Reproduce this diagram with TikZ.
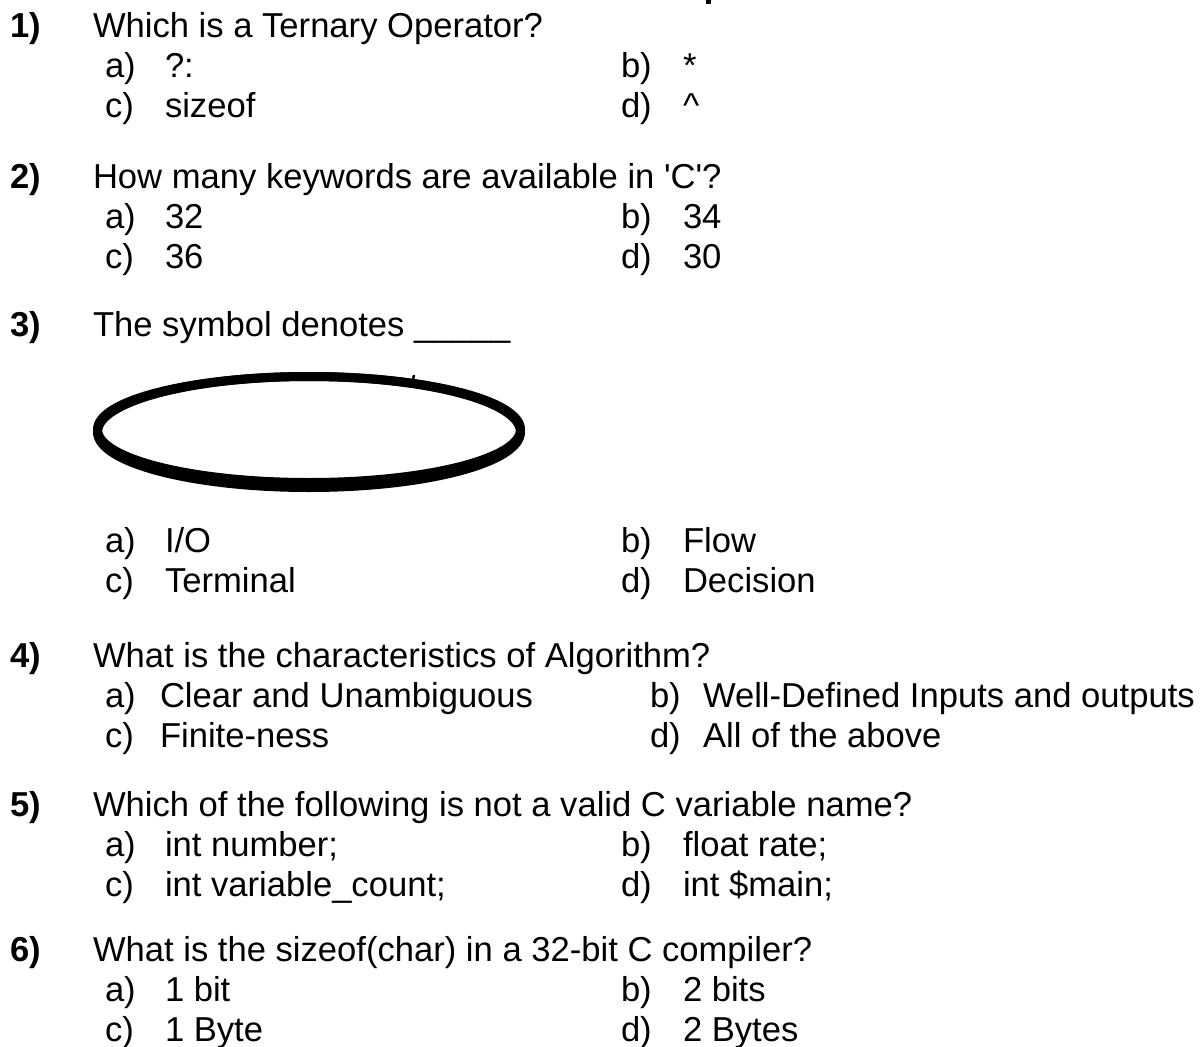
\documentclass[tikz,border=0pt]{standalone}
\usepackage{fontspec}
\setmainfont{Liberation Sans}
\begin{document}
\begin{tikzpicture}[x=1pt,y=-1pt,
  every node/.style={inner sep=0pt, outer sep=0pt, anchor=base west,
    font=\fontsize{34.6}{40}\selectfont},
  qnum/.style={font=\fontsize{34.6}{40}\selectfont\bfseries},
  symb/.style={line width=9pt}]
\useasboundingbox (0,0) rectangle (1200,1047);
% fragment of a cut-off heading
\fill (706,0) rectangle (711,4);
% Q1
\node[qnum] (q1n) at (10,37) {1)};
\node (q1t) at (93,37) {Which is a Ternary Operator?};
\node (q1a) at (105,77) {a)}; \node (q1at) at (165,77) {?:};
\node (q1b) at (621,77) {b)}; \node (q1bt) at (683,77) {*};
\node (q1c) at (105,117) {c)}; \node (q1ct) at (165,117) {sizeof};
\node (q1d) at (621,117) {d)}; \node (q1dt) at (683,117) {\textasciicircum};
% Q2
\node[qnum] (q2n) at (10,188) {2)};
\node (q2t) at (93,188) {How many keywords are available in \textquotesingle C\textquotesingle?};
\node (q2a) at (105,228) {a)}; \node (q2at) at (165,228) {32};
\node (q2b) at (621,228) {b)}; \node (q2bt) at (683,228) {34};
\node (q2c) at (105,268) {c)}; \node (q2ct) at (165,268) {36};
\node (q2d) at (621,268) {d)}; \node (q2dt) at (683,268) {30};
% Q3
\node[qnum] (q3n) at (10,336) {3)};
\node (q3t) at (93,336) {The symbol denotes \_\_\_\_\_};
\draw[symb] (309,432) ellipse [x radius=211.5, y radius=55.5];
\draw[symb] (309,429.5) ellipse [x radius=211.5, y radius=53];
\draw[line width=2.5pt] (412,384) -- (414,375);
\node (q3a) at (105,552) {a)}; \node (q3at) at (165,552) {I/O};
\node (q3b) at (621,552) {b)}; \node (q3bt) at (683,552) {Flow};
\node (q3c) at (105,592) {c)}; \node (q3ct) at (165,592) {Terminal};
\node (q3d) at (621,592) {d)}; \node (q3dt) at (683,592) {Decision};
% Q4
\node[qnum] (q4n) at (10,667) {4)};
\node (q4t) at (93,667) {What is the characteristics of Algorithm?};
\node (q4a) at (105,707) {a)}; \node (q4at) at (160,707) {Clear and Unambiguous};
\node (q4b) at (650,707) {b)}; \node (q4bt) at (703,707) {Well-Defined Inputs and outputs};
\node (q4c) at (105,747) {c)}; \node (q4ct) at (160,747) {Finite-ness};
\node (q4d) at (650,747) {d)}; \node (q4dt) at (703,747) {All of the above};
% Q5
\node[qnum] (q5n) at (10,816) {5)};
\node (q5t) at (93,816) {Which of the following is not a valid C variable name?};
\node (q5a) at (105,856) {a)}; \node (q5at) at (165,856) {int number;};
\node (q5b) at (621,856) {b)}; \node (q5bt) at (683,856) {float rate;};
\node (q5c) at (105,896) {c)}; \node (q5ct) at (165,896) {int variable\_count;};
\node (q5d) at (621,896) {d)}; \node (q5dt) at (683,896) {int \$main;};
% Q6
\node[qnum] (q6n) at (10,961) {6)};
\node (q6t) at (93,961) {What is the sizeof(char) in a 32-bit C compiler?};
\node (q6a) at (105,1001) {a)}; \node (q6at) at (165,1001) {1 bit};
\node (q6b) at (621,1001) {b)}; \node (q6bt) at (683,1001) {2 bits};
\node (q6c) at (105,1041) {c)}; \node (q6ct) at (165,1041) {1 Byte};
\node (q6d) at (621,1041) {d)}; \node (q6dt) at (683,1041) {2 Bytes};
\end{tikzpicture}
\end{document}
